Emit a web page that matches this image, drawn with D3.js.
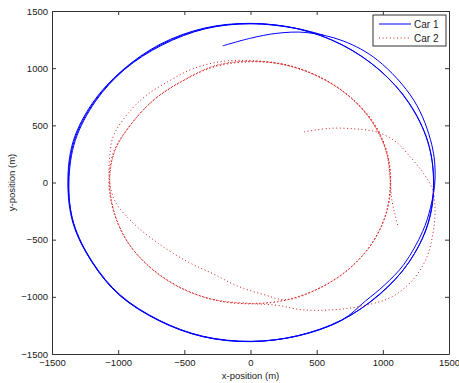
<!DOCTYPE html>
<html>
<head>
<meta charset="utf-8">
<script src="https://cdn.jsdelivr.net/npm/d3@7"></script>
<style>
  body { margin: 0; background: #fff; }
  svg { display: block; font-family: "Liberation Sans", Arial, sans-serif; }
</style>
</head>
<body>
<svg id="chart"></svg>
<script>
// ticks on both axes
const xTicks = [-1500, -1000, -500, 0, 500, 1000, 1500];
const yTicks = [-1500, -1000, -500, 0, 500, 1000, 1500];

// car 1 track (x, y in metres), in driving order
const car1Path = [
  // first (thin) pass
  [-210, 1195], [0, 1262], [200, 1305], [420, 1312], [700, 1238], [960, 1070], [1235, 718],
  [1370, 330], [1395, 40], [1360, -220], [1300, -430], [1160, -715], [1010, -900], [870, -1035],
  // lap 1
  [690, -1204], [360, -1340], [0, -1392], [-360, -1348], [-690, -1210], [-990, -985], [-1196, -700],
  [-1340, -360], [-1380, -4], [-1340, 360], [-1190, 702], [-970, 980], [-682, 1210], [-350, 1350],
  [0, 1392], [360, 1343], [692, 1205], [976, 983], [1198, 697], [1340, 358], [1383, 2],
  [1340, -360], [1196, -700], [976, -975], [690, -1205], [358, -1342],
  // lap 2
  [0, -1389], [-358, -1345], [-688, -1206], [-986, -982], [-1193, -697], [-1336, -356], [-1376, 2],
  [-1332, 364], [-1180, 707], [-960, 985], [-675, 1206], [-345, 1347], [0, 1390], [362, 1344],
  [692, 1203], [978, 980], [1195, 697], [1340, 356], [1385, -4], [1342, -362], [1194, -702],
  [978, -978], [688, -1203], [356, -1340],
  // lap 3
  [0, -1391], [-360, -1348], [-692, -1206], [-990, -986], [-1196, -698], [-1338, -358], [-1372, 6],
  [-1324, 368], [-1170, 712], [-950, 990], [-668, 1202], [-340, 1345], [0, 1388], [358, 1345],
  [560, 1285]
];

// car 2 track (x, y in metres), in driving order
const car2Path = [
  // wide first pass
  [405, 442], [600, 474], [800, 468], [960, 440], [1100, 355], [1210, 220], [1310, 75],
  [1375, -60], [1395, -250], [1378, -450], [1330, -660], [1220, -860], [1060, -1005],
  [820, -1085], [600, -1115], [390, -1113], [210, -1075], [0, -1058],
  // lap 1
  [-275, -1025], [-530, -922], [-750, -752], [-920, -533], [-1025, -275], [-1065, 0],
  [-1028, 272], [-895, 520], [-725, 728], [-510, 890], [-270, 1018], [0, 1060], [275, 1025],
  [532, 915], [752, 748], [920, 530], [1025, 272], [1055, 0], [1022, -275], [915, -535],
  [748, -752], [530, -920], [272, -1025], [0, -1058],
  // lap 2
  [-275, -1028], [-535, -915], [-752, -748], [-925, -530], [-1030, -272], [-1070, 5],
  [-1032, 275], [-900, 515], [-730, 722], [-515, 885], [-272, 1012], [0, 1055], [272, 1028],
  [530, 920], [750, 752], [925, 535], [1030, 275], [1060, -5], [1026, -272], [920, -530],
  [752, -748], [535, -915], [275, -1025],
  // lap 3: cuts inside lower left, runs wide upper left
  [100, -980], [-100, -905], [-280, -800], [-480, -690], [-700, -530], [-900, -340],
  [-1030, -150], [-1068, 60], [-1062, 250], [-1035, 410], [-920, 612], [-790, 760],
  [-612, 890], [-435, 995], [-220, 1058], [0, 1066], [272, 1030], [530, 918], [750, 750],
  [920, 532], [1028, 272], [1058, 0], [1025, -272], [918, -532], [750, -750], [532, -918],
  [272, -1028], [0, -1062],
  // lap 4, ends in the short spur on the right
  [-272, -1026], [-532, -918], [-750, -750], [-922, -532], [-1028, -272], [-1064, 2],
  [-1026, 274], [-892, 524], [-722, 732], [-508, 894], [-268, 1022], [0, 1062], [272, 1024],
  [532, 915], [750, 748], [918, 528], [1025, 270], [1056, 20], [1068, -150], [1092, -280],
  [1115, -385]
];

const seriesNames = ['Car 1', 'Car 2'];
const seriesColors = ['#0000ff', '#d81c1c'];

const width = 459;
const height = 383;
const margin = { left: 52, right: 10, top: 11, bottom: 29 };

const svg = d3.select('#chart')
  .attr('width', width)
  .attr('height', height);

const x = d3.scaleLinear().domain([-1500, 1500]).range([margin.left, width - margin.right]);
const y = d3.scaleLinear().domain([-1500, 1500]).range([height - margin.bottom, margin.top]);

svg.append('clipPath').attr('id', 'plot-clip')
  .append('rect')
  .attr('x', margin.left).attr('y', margin.top)
  .attr('width', width - margin.left - margin.right)
  .attr('height', height - margin.top - margin.bottom);

// tracks
const line = d3.line()
  .x(d => x(d[0]))
  .y(d => y(d[1]))
  .curve(d3.curveCatmullRom.alpha(0.5));

const plot = svg.append('g').attr('clip-path', 'url(#plot-clip)');

plot.append('path')
  .datum(car1Path)
  .attr('d', line)
  .attr('fill', 'none')
  .attr('stroke', seriesColors[0])
  .attr('stroke-width', 1);

plot.append('path')
  .datum(car2Path)
  .attr('d', line)
  .attr('fill', 'none')
  .attr('stroke', seriesColors[1])
  .attr('stroke-width', 1)
  .attr('stroke-dasharray', '1,2.6');

// axes, matlab style: ticks inside on all four sides
const axisColor = '#333';
const styleAxis = g => {
  g.attr('font-family', null).attr('font-size', null);
  g.selectAll('.domain').attr('stroke', axisColor);
  g.selectAll('.tick line').attr('stroke', axisColor);
  g.selectAll('.tick text').attr('fill', '#1a1a1a').style('font-size', '9.5px');
};

svg.append('g')
  .attr('transform', `translate(0,${height - margin.bottom})`)
  .call(d3.axisBottom(x).tickValues(xTicks).tickFormat(d3.format('d'))
    .tickSizeInner(-4).tickSizeOuter(0).tickPadding(5))
  .call(styleAxis);

svg.append('g')
  .attr('transform', `translate(0,${margin.top})`)
  .call(d3.axisTop(x).tickValues(xTicks).tickFormat('')
    .tickSizeInner(-4).tickSizeOuter(0))
  .call(styleAxis);

svg.append('g')
  .attr('transform', `translate(${margin.left},0)`)
  .call(d3.axisLeft(y).tickValues(yTicks).tickFormat(d3.format('d'))
    .tickSizeInner(-4).tickSizeOuter(0).tickPadding(4))
  .call(styleAxis);

svg.append('g')
  .attr('transform', `translate(${width - margin.right},0)`)
  .call(d3.axisRight(y).tickValues(yTicks).tickFormat('')
    .tickSizeInner(-4).tickSizeOuter(0))
  .call(styleAxis);

// axis titles
svg.append('text')
  .attr('x', (margin.left + width - margin.right) / 2)
  .attr('y', 379)
  .attr('text-anchor', 'middle')
  .style('font-size', '9.5px')
  .attr('fill', '#1a1a1a')
  .text('x-position (m)');

svg.append('text')
  .attr('transform', `translate(15,${(margin.top + height - margin.bottom) / 2}) rotate(-90)`)
  .attr('text-anchor', 'middle')
  .style('font-size', '9.5px')
  .attr('fill', '#1a1a1a')
  .text('y-position (m)');

// legend
const legend = svg.append('g').attr('transform', 'translate(373,15)');
legend.append('rect')
  .attr('width', 73).attr('height', 31)
  .attr('fill', '#fff')
  .attr('stroke', axisColor);

const entries = legend.selectAll('g.entry')
  .data(seriesNames)
  .enter().append('g')
  .attr('class', 'entry')
  .attr('transform', (d, i) => `translate(0,${9 + i * 14})`);

entries.append('line')
  .attr('x1', 6).attr('x2', 38)
  .attr('stroke', (d, i) => seriesColors[i])
  .attr('stroke-width', 1)
  .attr('stroke-dasharray', (d, i) => i === 0 ? null : '1,2.6');

entries.append('text')
  .attr('x', 41)
  .attr('dy', '0.35em')
  .style('font-size', '10px')
  .attr('fill', '#1a1a1a')
  .text(d => d);
</script>
</body>
</html>
